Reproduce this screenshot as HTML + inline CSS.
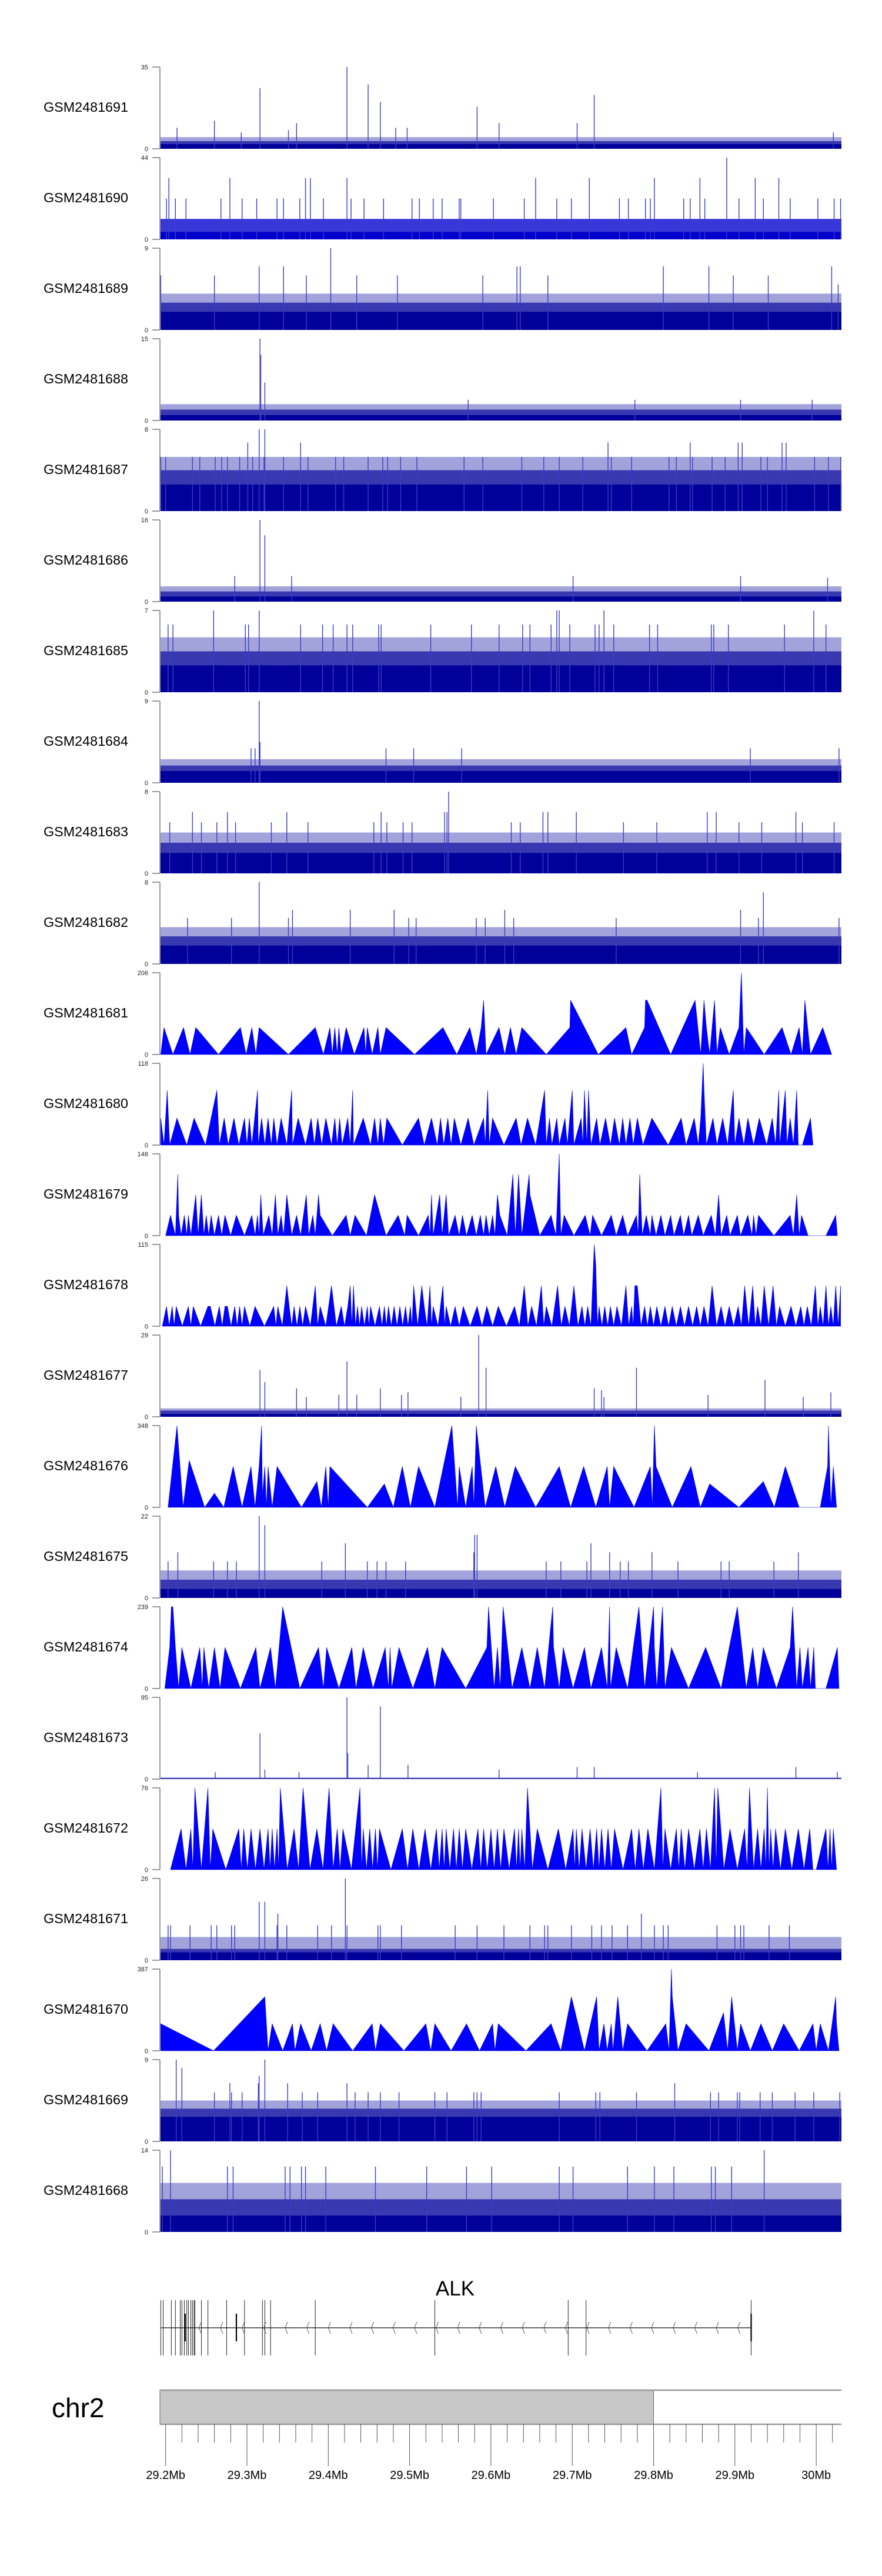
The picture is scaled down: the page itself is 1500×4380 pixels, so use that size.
<!DOCTYPE html>
<html><head><meta charset="utf-8"><title>Coverage tracks ALK</title>
<style>html,body{margin:0;padding:0;background:#fff;}svg{display:block;font-family:"Liberation Sans",sans-serif;}</style>
</head><body>
<svg id="chart" width="1500" height="4380" viewBox="0 0 1500 4380" xmlns="http://www.w3.org/2000/svg">
<rect x="0" y="0" width="1500" height="4380" fill="#fff"/>
</svg>
<script>
// ---------- data (positions in kb offset from chr2:29,193,000) ----------
const trackNames = ["GSM2481691","GSM2481690","GSM2481689","GSM2481688","GSM2481687","GSM2481686","GSM2481685","GSM2481684","GSM2481683","GSM2481682","GSM2481681","GSM2481680","GSM2481679","GSM2481678","GSM2481677","GSM2481676","GSM2481675","GSM2481674","GSM2481673","GSM2481672","GSM2481671","GSM2481670","GSM2481669","GSM2481668"];
const trackMax = [35,44,9,15,8,16,7,9,8,8,206,118,148,115,29,348,22,239,95,76,26,387,9,14];
const trackKind = ["d","d","d","d","d","d","d","d","d","d","t","t","t","t","d","t","d","t","d","t","d","t","d","d"];

// dense tracks: [base, mid, top] levels + spikes
const lv1691=[2,3.3,5];
const sp1691Pos=[123,230,256,271,390,417,534,513,67,168,828,21,304,290,100,158];
const sp1691Val=[26,35,27.5,20,18,11,23,11,12,11,7,9,9,9,7,8];
const lv1690=[4,11,11];
const sp1690Pos=[11,86,179,185,230,462,528,608,664,697,732,761,8,19,32,75,101,119,144,152,172,201,235,251,275,310,319,336,347,368,370,410,448,488,506,565,576,597,603,644,652,670,712,742,775,809,829,837];
const sp1690Val=[33,33,33,33,33,33,33,33,33,44,33,33,22,22,22,22,22,22,22,22,22,22,22,22,22,22,22,22,22,22,22,22,22,22,22,22,22,22,22,22,22,22,22,22,22,22,22,22];
const lv1689=[2,3,4];
const sp1689Pos=[210,122,152,439,443,619,675,826,242,1,67,180,292,397,477,705,748,834];
const sp1689Val=[9,7,7,7,7,7,7,7,6,6,6,6,6,6,6,6,6,5];
const lv1688=[1,2,3];
const sp1688Pos=[123,124,129,379,584,714,802];
const sp1688Val=[15,12,7,3.8,3.8,3.8,3.8];
const lv1687=[2.6,4,5.3];
const sp1687Pos=[122,129,108,173,551,652,711,716,765,770,1,7,40,49,68,76,83,98,114,128,152,182,216,226,256,274,280,296,316,374,397,445,472,491,520,555,580,626,635,655,679,695,739,747,805,822,837];
const sp1687Val=[8,8,6.7,6.7,6.7,6.7,6.7,6.7,6.7,6.7,5.3,5.3,5.3,5.3,5.3,5.3,5.3,5.3,5.3,5.3,5.3,5.3,5.3,5.3,5.3,5.3,5.3,5.3,5.3,5.3,5.3,5.3,5.3,5.3,5.3,5.3,5.3,5.3,5.3,5.3,5.3,5.3,5.3,5.3,5.3,5.3,5.3];
const lv1686=[1,2,3];
const sp1686Pos=[123,129,92,162,508,714,821];
const sp1686Val=[16,13,5,5,5,5,4.7];
const lv1685=[2.3,3.5,4.7];
const sp1685Pos=[66,122,488,491,546,804,10,16,105,109,173,200,213,230,237,269,272,333,383,417,446,455,481,504,535,540,558,602,612,678,681,699,768,819];
const sp1685Val=[7,7,7,7,7,7,5.8,5.8,5.8,5.8,5.8,5.8,5.8,5.8,5.8,5.8,5.8,5.8,5.8,5.8,5.8,5.8,5.8,5.8,5.8,5.8,5.8,5.8,5.8,5.8,5.8,5.8,5.8,5.8];
const lv1684=[1.3,1.9,2.6];
const sp1684Pos=[122,123,112,117,278,312,371,726,835];
const sp1684Val=[9,4.5,3.8,3.8,3.8,3.8,3.8,3.8,3.8];
const lv1683=[2,3,4];
const sp1683Pos=[355,40,83,156,272,350,353,471,477,512,673,684,782,12,51,70,93,137,182,263,279,299,310,432,443,570,611,712,740,790,829];
const sp1683Val=[8,6,6,6,6,6,6,6,6,6,6,6,6,5,5,5,5,5,5,5,5,5,5,5,5,5,5,5,5,5,5];
const lv1682=[1.8,2.7,3.6];
const sp1682Pos=[122,742,163,234,288,424,714,34,88,158,306,315,389,400,435,561,736,835];
const sp1682Val=[8,7,5.3,5.3,5.3,5.3,5.3,4.5,4.5,4.5,4.5,4.5,4.5,4.5,4.5,4.5,4.5,4.5];
const lv1677=[1,2.2,3];
const sp1677Pos=[392,401,586,230,123,129,744,168,271,534,543,305,825,674,791,370,297,220,242,180,546];
const sp1677Val=[29,17.4,17.4,19.6,16.6,12.3,13.1,10.1,10.1,10.1,9.4,8.7,8.7,7.8,7.1,7.1,7.8,7.8,7.8,7,7];
const lv1675=[2.4,4.9,7.4];
const sp1675Pos=[122,129,387,390,228,530,22,386,553,605,785,10,66,83,94,199,255,267,278,302,475,493,525,566,576,637,690,700,755];
const sp1675Val=[22,19.6,17,17,14.7,14.7,12.3,12.3,12.3,12.3,12.3,9.8,9.8,9.8,9.8,9.8,9.8,9.8,9.8,9.8,9.8,9.8,9.8,9.8,9.8,9.8,9.8,9.8,9.8];
const lv1673=[0.5,1,2];
const sp1673Pos=[230,271,123,231,305,256,513,534,782,129,171,68,417,833,661];
const sp1673Val=[95,84.5,53,30,16.5,16.5,14,14,14,11,8,8,11,8,8];
const lv1671=[2.5,3.6,7.4];
const sp1671Pos=[228,122,129,145,592,455,10,13,37,63,70,88,92,144,156,194,211,230,268,271,297,363,390,423,473,477,506,531,543,556,575,608,619,625,685,707,714,718,749,774];
const sp1671Val=[26,18.6,18.6,14.8,14.8,11.1,11.1,11.1,11.1,11.1,11.1,11.1,11.1,11.1,11.1,11.1,11.1,11.1,11.1,11.1,11.1,11.1,11.1,11.1,11.1,11.1,11.1,11.1,11.1,11.1,11.1,11.1,11.1,11.1,11.1,11.1,11.1,11.1,11.1,11.1];
const lv1669=[2.7,3.6,4.5];
const sp1669Pos=[20,129,27,122,86,121,157,230,633,67,88,101,175,194,240,256,271,294,338,353,386,390,395,491,536,541,586,677,687,710,713,738,753,781,804,836];
const sp1669Val=[9,9,8.1,7.2,6.4,6.4,6.4,6.4,6.4,5.4,5.4,5.4,5.4,5.4,5.4,5.4,5.4,5.4,5.4,5.4,5.4,5.4,5.4,5.4,5.4,5.4,5.4,5.4,5.4,5.4,5.4,5.4,5.4,5.4,5.4,5.4];
const lv1668=[2.8,5.6,8.4];
const sp1668Pos=[13,743,3,83,90,154,160,174,179,204,265,328,377,408,491,508,575,608,632,678,683,703];
const sp1668Val=[14,14,11.2,11.2,11.2,11.2,11.2,11.2,11.2,11.2,11.2,11.2,11.2,11.2,11.2,11.2,11.2,11.2,11.2,11.2,11.2,11.2];

// triangle tracks: vertices (zeros between adjacent peaks are implied)
const tr1681Pos=[1,5,16,29,37,44,72,99,106,113,118,122,158,191,201,209,212,215,218,220,223,229,239,251,255,261,268,271,278,313,348,365,381,389,395,398,401,417,424,431,438,445,475,504,505,539,573,580,596,597,599,628,658,665,669,672,676,682,685,689,700,712,715,718,721,743,765,776,786,790,793,800,815,826];
const tr1681Val=[0,68,0,68,0,68,0,68,0,68,0,68,0,68,0,68,0,68,0,68,0,68,0,68,68,0,68,0,68,0,68,0,68,0,68,137,0,68,0,68,0,68,0,68,137,0,68,0,68,137,137,0,137,0,137,68,0,137,0,68,0,68,206,0,68,0,68,0,68,0,137,0,68,0];
const tr1680Pos=[1,5,9,12,21,33,42,56,70,73,79,84,91,97,104,107,110,113,120,121,125,129,133,137,140,144,149,156,162,163,170,179,186,190,194,199,204,211,215,218,221,224,231,234,237,238,250,259,264,268,271,275,279,298,318,325,334,341,345,349,354,358,362,370,379,386,398,400,403,405,409,423,438,444,452,462,473,475,479,482,488,491,498,501,507,509,518,522,525,527,530,537,541,548,554,559,565,569,573,578,582,587,594,605,625,641,647,657,662,665,668,669,672,680,685,692,698,705,707,712,718,723,730,737,746,753,757,761,762,769,771,775,779,783,785,790,800,803];
const tr1680Val=[39,0,79,0,39,0,39,0,79,0,39,0,39,0,39,0,39,0,79,0,39,0,39,0,39,0,39,0,79,0,39,0,39,0,39,0,39,0,39,0,39,0,39,0,79,0,39,0,39,0,39,0,39,0,39,0,39,0,39,0,39,0,39,0,39,0,39,0,79,0,39,0,39,0,39,0,79,0,39,0,39,0,39,0,79,0,39,79,0,79,0,39,0,39,0,39,0,39,0,39,0,39,0,39,0,39,0,39,0,39,118,79,0,39,0,39,0,79,0,39,0,39,0,39,0,39,0,79,0,79,0,39,0,79,0,0,39,0];
const tr1679Pos=[7,13,19,22,23,26,30,33,35,38,41,44,47,51,54,57,60,63,67,72,76,80,87,94,104,113,117,120,124,127,134,138,142,145,149,152,156,162,168,173,180,183,188,191,195,197,212,229,234,240,254,264,278,293,301,304,318,330,334,336,344,347,352,355,363,368,372,377,384,389,394,398,401,405,409,412,415,418,427,434,437,441,445,454,455,467,481,487,491,493,497,509,523,529,532,543,555,561,569,575,586,590,593,598,603,605,610,616,621,628,632,640,644,650,654,662,668,678,683,687,690,697,701,710,714,723,728,730,736,755,775,779,783,786,789,797,819,831,833];
const tr1679Val=[0,37,0,111,37,0,37,0,37,0,37,74,0,74,0,37,0,37,0,37,0,37,0,37,0,37,0,37,74,0,37,0,74,0,37,0,74,0,37,0,74,0,37,0,74,37,0,37,0,37,0,74,0,37,0,37,0,37,74,0,74,0,74,0,37,0,37,0,37,0,37,0,37,0,37,0,74,37,0,111,0,111,0,111,74,0,37,0,148,0,37,0,37,0,37,0,37,0,37,0,37,111,0,37,0,37,0,37,0,37,0,37,0,37,0,37,0,37,0,74,0,37,0,37,0,37,0,37,37,0,37,0,74,0,37,0,0,37,0];
const tr1678Pos=[3,8,15,20,35,41,59,62,73,80,83,92,98,104,117,140,145,156,159,165,172,179,191,197,211,223,231,234,238,243,248,255,259,270,276,281,288,295,302,308,312,322,325,332,336,348,352,363,373,390,402,416,436,448,457,469,475,489,498,509,519,526,534,536,540,547,554,562,573,580,584,587,596,603,611,621,630,640,650,660,669,679,690,700,711,719,729,735,743,754,762,776,788,796,806,812,819,825,831,837];
const tr1678Val=[0,28,28,28,28,28,28,28,28,28,28,28,28,28,28,28,28,57,28,28,28,28,57,28,57,28,28,57,57,28,28,28,28,28,28,28,28,28,28,28,57,57,28,57,28,57,28,28,28,28,28,28,28,57,28,57,28,57,28,57,28,28,115,86,28,28,28,28,57,28,57,57,28,28,28,28,28,28,28,28,28,57,28,28,28,57,57,28,57,57,28,28,28,28,57,28,57,28,57,57];
const tr1676Pos=[10,21,36,55,67,90,101,112,117,122,125,126,129,131,133,138,144,174,193,204,207,209,255,276,298,308,318,338,359,366,368,376,384,386,389,400,413,424,437,462,491,505,521,536,550,553,558,583,603,608,610,630,653,676,712,742,769,786,812,821,822,825,828,832];
const tr1676Val=[0,348,200,0,60,174,0,174,0,174,348,50,174,0,174,0,174,0,110,174,0,174,0,100,174,0,174,0,348,0,174,0,174,0,348,0,174,0,174,0,174,0,174,0,174,0,174,0,174,348,174,0,174,100,0,110,174,0,0,174,348,0,174,0];
const tr1674Pos=[6,12,14,16,19,23,27,38,49,52,54,60,67,74,80,99,118,123,136,142,151,172,195,201,205,220,236,241,250,262,277,281,283,285,294,311,329,338,347,376,402,404,411,415,422,433,445,455,464,473,483,484,491,496,508,522,530,543,550,553,554,561,575,589,596,607,608,611,618,621,629,650,671,690,710,721,729,735,742,758,775,778,783,787,790,797,800,804,806,819,833,835];
const tr1674Val=[0,120,239,239,120,0,120,0,120,0,120,0,120,0,120,0,120,0,120,0,239,0,120,0,120,0,120,0,120,0,120,0,120,0,120,0,120,0,120,0,120,239,0,120,239,0,120,0,120,0,239,120,0,120,0,120,0,120,0,239,0,120,0,239,0,239,120,0,239,0,120,0,120,0,239,0,120,0,120,0,120,239,0,120,0,120,0,120,0,0,120,0];
const tr1672Pos=[13,26,38,43,59,65,97,103,112,123,133,138,144,148,165,176,193,208,218,225,246,250,258,265,270,298,311,326,340,347,352,361,368,376,391,398,407,415,423,436,441,445,452,464,490,508,512,519,529,537,543,551,559,580,589,600,616,621,635,641,650,664,672,682,686,701,719,725,735,743,747,751,757,769,785,799,803,807,819,824,828,832];
const tr1672Val=[0,38,38,76,76,38,38,38,38,38,38,38,38,76,38,76,38,76,38,38,76,38,38,38,38,38,38,38,38,38,38,38,38,38,38,38,38,38,38,38,38,38,76,38,38,38,38,38,38,38,38,38,38,38,38,38,76,38,38,38,38,38,38,76,76,38,38,76,38,38,76,38,38,38,38,38,0,0,38,38,38,0];
const tr1670Pos=[1,66,129,133,138,151,163,166,173,186,197,205,213,237,261,265,271,300,327,333,338,358,377,393,409,412,416,450,481,493,506,522,537,540,546,550,555,557,563,569,575,599,622,626,629,630,637,647,675,693,703,710,714,726,739,753,767,786,803,807,812,822,831,832,835];
const tr1670Val=[128,0,256,0,128,0,128,0,128,0,128,0,128,0,128,0,128,0,128,0,128,0,128,0,128,0,128,0,128,0,256,0,256,0,128,0,128,0,256,0,128,0,128,0,387,256,0,128,0,180,256,0,128,0,128,0,128,0,128,0,128,0,256,128,0];

// gene model (ALK) exons, kb offsets
const geneStart = 1;
const geneEnd = 727;
const exonPos = [1,4,14,19,25,27,30,33,35,38,40,42,43,51,59,82,104,126,129,136,191,338,502,524,727];
const thickExonPos = [31,94,727];
// axis
const axisTicksMb = [29.2,29.3,29.4,29.5,29.6,29.7,29.8,29.9,30.0];
const axisTickLabels = ["29.2Mb","29.3Mb","29.4Mb","29.5Mb","29.6Mb","29.7Mb","29.8Mb","29.9Mb","30Mb"];
const ideogramBandEndMb = 29.8;

// ---------- rendering ----------
const NS = "http://www.w3.org/2000/svg";
const svg = document.getElementById("chart");
const X0 = 272, X1 = 1431, KB_SPAN = 838, ORIGIN_KB = 29193;
function xs(kb){ return X0 + kb * (X1 - X0) / KB_SPAN; }
function mk(tag, attrs, parent){ const e = document.createElementNS(NS, tag); for (const k in attrs) e.setAttribute(k, attrs[k]); (parent||svg).appendChild(e); return e; }

const denseData = {
 "GSM2481691":[lv1691,sp1691Pos,sp1691Val],"GSM2481690":[lv1690,sp1690Pos,sp1690Val],
 "GSM2481689":[lv1689,sp1689Pos,sp1689Val],"GSM2481688":[lv1688,sp1688Pos,sp1688Val],
 "GSM2481687":[lv1687,sp1687Pos,sp1687Val],"GSM2481686":[lv1686,sp1686Pos,sp1686Val],
 "GSM2481685":[lv1685,sp1685Pos,sp1685Val],"GSM2481684":[lv1684,sp1684Pos,sp1684Val],
 "GSM2481683":[lv1683,sp1683Pos,sp1683Val],"GSM2481682":[lv1682,sp1682Pos,sp1682Val],
 "GSM2481677":[lv1677,sp1677Pos,sp1677Val],"GSM2481675":[lv1675,sp1675Pos,sp1675Val],
 "GSM2481673":[lv1673,sp1673Pos,sp1673Val],"GSM2481671":[lv1671,sp1671Pos,sp1671Val],
 "GSM2481669":[lv1669,sp1669Pos,sp1669Val],"GSM2481668":[lv1668,sp1668Pos,sp1668Val]};
const triData = {
 "GSM2481681":[tr1681Pos,tr1681Val],"GSM2481680":[tr1680Pos,tr1680Val],"GSM2481679":[tr1679Pos,tr1679Val],
 "GSM2481678":[tr1678Pos,tr1678Val],"GSM2481676":[tr1676Pos,tr1676Val],"GSM2481674":[tr1674Pos,tr1674Val],
 "GSM2481672":[tr1672Pos,tr1672Val],"GSM2481670":[tr1670Pos,tr1670Val]};

trackNames.forEach((name, i) => {
  const top = 114 + 154 * i, H = 139, bot = top + H, max = trackMax[i];
  const ys = v => bot - Math.min(v, max) / max * H;
  const g = mk("g", {});
  
  
  const lab = mk("text", {x: 74, y: top + 76, "font-size": 23, textLength: 144, lengthAdjust: "spacingAndGlyphs", fill: "#000"}, g);
  lab.textContent = name;
  
  
  const ax = mk("g", {stroke: "#808080", "stroke-width": 1.6}, g);
  
  
  mk("line", {x1: X0, y1: top, x2: X0, y2: bot}, ax);
  mk("line", {x1: 259, y1: top, x2: X0, y2: top}, ax);
  mk("line", {x1: 259, y1: bot, x2: X0, y2: bot}, ax);
  const tMax = mk("text", {x: 252, y: top + 4, "font-size": 11, "text-anchor": "end", fill: "#222"}, g);
  tMax.textContent = String(max);
  
  
  const t0 = mk("text", {x: 252, y: bot + 4, "font-size": 11, "text-anchor": "end", fill: "#222"}, g);
  t0.textContent = "0";
  
  

  if (trackKind[i] === "d") {
    const [lv, pos, val] = denseData[name];
    const bright = name === "GSM2481690";
    const c = bright ? "0,0,205" : "0,0,155";
    const top3 = mk("rect", {x: X0 + 1, y: ys(lv[2]), width: X1 - X0 - 1, height: bot - ys(lv[2]), fill: `rgba(${c},0.36)`}, g);
    
    
    const mid = mk("rect", {x: X0 + 1, y: ys(lv[1]), width: X1 - X0 - 1, height: bot - ys(lv[1]), fill: `rgba(${c},0.66)`}, g);
    
    
    const base = mk("rect", {x: X0 + 1, y: ys(lv[0]), width: X1 - X0 - 1, height: bot - ys(lv[0]), fill: `rgb(${c})`}, g);
    
    
    pos.forEach((p, k) => {
      const l = mk("line", {x1: xs(p), x2: xs(p), y1: bot, y2: ys(val[k]), stroke: bright ? "#3a3ad0" : "#3c3cc0", "stroke-width": 1.4}, g);
      
      
    });
  } else {
    const [pos, val] = triData[name];
    let pts = [[pos[0], 0]];
    for (let k = 0; k < pos.length; k++) {
      if (k > 0 && val[k] > 0 && val[k - 1] > 0 && pos[k] - pos[k - 1] > 3) pts.push([(pos[k] + pos[k - 1]) / 2, 0]);
      pts.push([pos[k], val[k]]);
    }
    pts.push([pos[pos.length - 1], 0]);
    const d = pts.map(p => xs(p[0]).toFixed(1) + "," + ys(p[1]).toFixed(1)).join(" ");
    const poly = mk("polygon", {points: d, fill: "#0000ff", stroke: "#0000ee", "stroke-width": 0.6}, g);
    
    
  }
});

// gene track
const gg = mk("g", {});


const gl = mk("text", {x: 774, y: 3903, "font-size": 35, "text-anchor": "middle", fill: "#000"}, gg);
gl.textContent = "ALK";


const bb = mk("line", {x1: xs(geneStart), x2: xs(geneEnd), y1: 3958, y2: 3958, stroke: "#333", "stroke-width": 1.5}, gg);


exonPos.forEach(p => {
  const e = mk("line", {x1: xs(p), x2: xs(p), y1: 3911, y2: 4005, stroke: "#222", "stroke-width": 1}, gg);
  
  
});
thickExonPos.forEach(p => {
  const e = mk("line", {x1: xs(p), x2: xs(p), y1: 3934, y2: 3981, stroke: "#000", "stroke-width": 2.2}, gg);
  
  
});
for (let kb = 48; kb < geneEnd - 5; kb += 26.5) {
  const x = xs(kb);
  const ch = mk("polyline", {points: `${x + 4},${3948} ${x},${3958} ${x + 4},${3968}`, fill: "none", stroke: "#555", "stroke-width": 1}, gg);
  
  
}

// ideogram + axis
const ag = mk("g", {});


const chrT = mk("text", {x: 88, y: 4110, "font-size": 46, fill: "#000"}, ag);
chrT.textContent = "chr2";


const bandX = xs(ideogramBandEndMb * 1000 - ORIGIN_KB);
const band = mk("rect", {x: X0, y: 4064, width: bandX - X0, height: 58, fill: "#c8c8c8", stroke: "#666", "stroke-width": 1}, ag);


mk("line", {x1: X0, x2: X1, y1: 4064, y2: 4064, stroke: "#999", "stroke-width": 2.5}, ag);
mk("line", {x1: X0, x2: X1, y1: 4122, y2: 4122, stroke: "#999", "stroke-width": 2.5}, ag);
for (let kb = 29200; kb <= 30020; kb += 20) {
  const x = xs(kb - ORIGIN_KB);
  const major = (kb % 100 === 0);
  const t = mk("line", {x1: x, x2: x, y1: 4122, y2: major ? 4193 : 4153, stroke: "#444", "stroke-width": 0.9}, ag);
  
  
}
axisTicksMb.forEach((m, k) => {
  const t = mk("text", {x: xs(m * 1000 - ORIGIN_KB), y: 4215, "font-size": 20, "text-anchor": "middle", fill: "#000"}, ag);
  t.textContent = axisTickLabels[k];
  
  
});
</script>
</body></html>
